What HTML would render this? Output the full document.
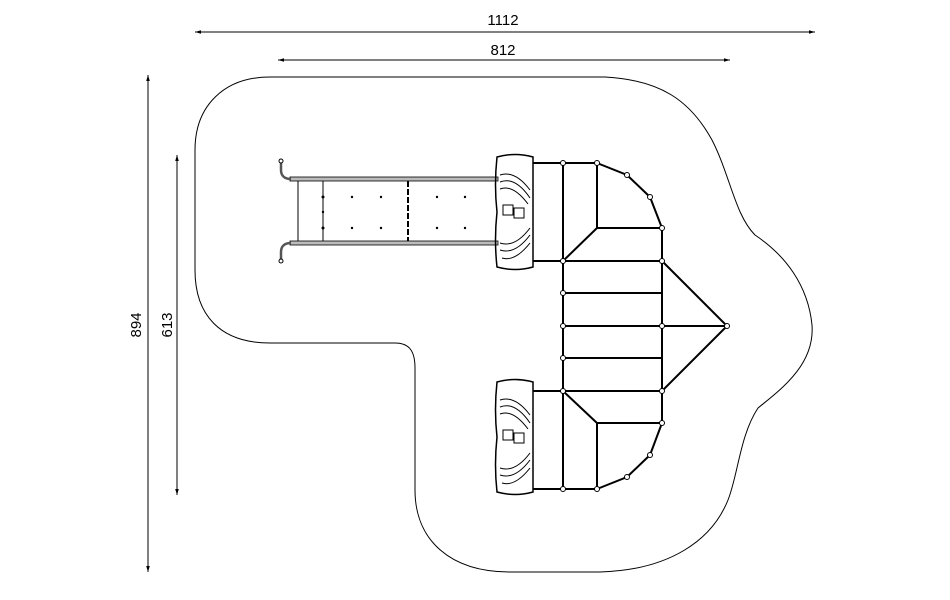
<!DOCTYPE html><html><head><style>body{margin:0;background:#fff}svg{display:block}</style></head><body>
<svg width="950" height="600" viewBox="0 0 950 600" xmlns="http://www.w3.org/2000/svg" font-family="Liberation Sans, sans-serif">
<defs><marker id="a" viewBox="0 0 10 10" refX="10" refY="5" markerWidth="8" markerHeight="6" orient="auto-start-reverse"><path d="M0,2 L10,5 L0,8z" fill="#000"/></marker></defs>
<g stroke="#000" stroke-width="1" fill="none">
<line x1="195" y1="32" x2="815" y2="32" marker-start="url(#a)" marker-end="url(#a)"/>
<line x1="278" y1="60" x2="730" y2="60" marker-start="url(#a)" marker-end="url(#a)"/>
<line x1="148" y1="75" x2="148" y2="572" marker-start="url(#a)" marker-end="url(#a)"/>
<line x1="177" y1="155" x2="177" y2="495" marker-start="url(#a)" marker-end="url(#a)"/>
<path d="M270,77 L605,77 C660,80 690,100 712,140 C730,175 735,215 755,235 C785,255 808,285 812,325 C815,365 780,390 758,408 C740,435 738,475 728,500 C712,540 670,570 600,572 L510,572 C450,572 415,540 415,490 L415,368 C415,352 410,343 395,343 L270,343 C220,343 195,315 195,270 L195,150 C195,105 225,77 270,77Z"/>
</g>
<g fill="#000" font-size="15" text-anchor="middle">
<text x="503" y="25">1112</text><text x="503" y="55">812</text>
<text transform="translate(141,325) rotate(-90)">894</text>
<text transform="translate(172,325) rotate(-90)">613</text>
</g>
<g stroke="#000" fill="none">
<rect x="290" y="177" width="208" height="4" fill="#bbb" stroke-width="0.8"/>
<rect x="290" y="241" width="208" height="4" fill="#bbb" stroke-width="0.8"/>
<path d="M281,162 L281,170 C281,176 285,179 291,179 M281,260 L281,252 C281,246 285,243 291,243" stroke-width="2.5" stroke="#555"/>
<circle cx="281" cy="161" r="2" fill="#fff" stroke-width="1"/><circle cx="281" cy="261" r="2" fill="#fff" stroke-width="1"/>
<line x1="298" y1="181" x2="298" y2="241"/>
<line x1="323" y1="181" x2="323" y2="241"/>
<path d="M408,181 L408,241" stroke-width="2" stroke-dasharray="6 2"/>
</g>
<g fill="#000">
<circle cx="352" cy="197" r="1.2"/><circle cx="381" cy="197" r="1.2"/><circle cx="352" cy="228" r="1.2"/><circle cx="381" cy="228" r="1.2"/>
<circle cx="437" cy="197" r="1.2"/><circle cx="465" cy="197" r="1.2"/><circle cx="437" cy="228" r="1.2"/><circle cx="465" cy="228" r="1.2"/>
<circle cx="323" cy="197" r="1.5"/><circle cx="323" cy="228" r="1.5"/><circle cx="323" cy="212" r="1.2"/>
</g>
<g stroke="#000" fill="none" stroke-width="1.5">
<path d="M497,157 Q515,152 533,157 L533,267 Q515,272 497,267 Q494,240 497,212 Q494,185 497,157Z"/>
<path d="M497,382 Q515,377 533,382 L533,492 Q515,497 497,492 Q494,465 497,437 Q494,410 497,382Z"/>
<g stroke-width="1"><path d="M500,175 Q515,170 530,190 M500,182 Q515,176 530,198 M500,189 Q513,184 528,204"/>
<path d="M500,250 Q515,255 530,235 M500,243 Q515,248 530,228 M502,258 Q515,262 530,243"/>
<path d="M500,400 Q515,395 530,415 M500,407 Q515,401 530,423 M500,414 Q513,409 528,429"/>
<path d="M500,475 Q515,480 530,460 M500,468 Q515,473 530,453 M502,483 Q515,487 530,468"/>
<rect x="503" y="205" width="10" height="10"/><rect x="514" y="208" width="10" height="10"/>
<rect x="503" y="430" width="10" height="10"/><rect x="514" y="433" width="10" height="10"/></g>
</g>
<g stroke="#000" fill="none" stroke-width="2">
<line x1="533" y1="163" x2="597" y2="163"/><line x1="533" y1="261" x2="563" y2="261"/>
<line x1="533" y1="391" x2="563" y2="391"/><line x1="533" y1="489" x2="597" y2="489"/>
<line x1="563" y1="163" x2="563" y2="489"/>
<line x1="597" y1="163" x2="597" y2="228"/><line x1="597" y1="423" x2="597" y2="489"/>
<line x1="662" y1="228" x2="662" y2="423"/>
<path d="M597,163 L627,175 L650,197 L662,228 M597,489 L627,477 L650,455 L662,423"/>
<line x1="597" y1="228" x2="662" y2="228"/><line x1="597" y1="423" x2="662" y2="423"/>
<line x1="563" y1="261" x2="597" y2="228"/><line x1="563" y1="391" x2="597" y2="423"/>
<line x1="563" y1="261" x2="662" y2="261"/><line x1="563" y1="293" x2="662" y2="293"/>
<line x1="563" y1="326" x2="727" y2="326"/><line x1="563" y1="358" x2="662" y2="358"/>
<line x1="563" y1="391" x2="662" y2="391"/>
<path d="M662,261 L727,326 L662,391"/>
</g>
<g fill="#fff" stroke="#000" stroke-width="1">
<circle cx="563" cy="163" r="2.5"/><circle cx="597" cy="163" r="2.5"/><circle cx="627" cy="175" r="2.5"/><circle cx="650" cy="197" r="2.5"/><circle cx="662" cy="228" r="2.5"/>
<circle cx="563" cy="489" r="2.5"/><circle cx="597" cy="489" r="2.5"/><circle cx="627" cy="477" r="2.5"/><circle cx="650" cy="455" r="2.5"/><circle cx="662" cy="423" r="2.5"/>
<circle cx="563" cy="261" r="2.5"/><circle cx="563" cy="293" r="2.5"/><circle cx="563" cy="326" r="2.5"/><circle cx="563" cy="358" r="2.5"/><circle cx="563" cy="391" r="2.5"/>
<circle cx="662" cy="261" r="2.5"/><circle cx="662" cy="326" r="2.5"/><circle cx="662" cy="391" r="2.5"/><circle cx="727" cy="326" r="2.5"/>
</g>
</svg></body></html>
